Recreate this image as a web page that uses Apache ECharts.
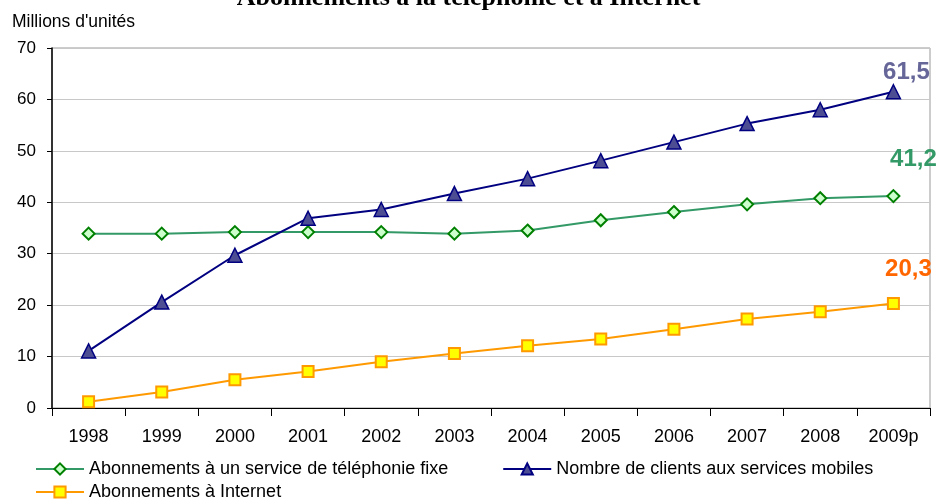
<!DOCTYPE html>
<html><head><meta charset="utf-8">
<script src="https://cdn.jsdelivr.net/npm/echarts@6/dist/echarts.min.js"></script>
<style>html,body{margin:0;padding:0;background:#fff}#c{width:937px;height:500px}</style>
</head><body><div id="c"></div>
<script>
const years = ['1998','1999','2000','2001','2002','2003','2004','2005','2006','2007','2008','2009p'];
const fixe = [33.9,33.9,34.2,34.2,34.2,33.9,34.5,36.5,38.1,39.6,40.8,41.2];
const mobile = [11.1,20.6,29.7,36.9,38.6,41.7,44.6,48.1,51.7,55.3,58.0,61.5];
const internet = [1.2,3.1,5.5,7.1,9.0,10.6,12.1,13.4,15.3,17.3,18.7,20.3];
const yTicks = [0,10,20,30,40,50,60,70];
const names = ['Abonnements à un service de téléphonie fixe','Nombre de clients aux services mobiles','Abonnements à Internet'];
const F = 'Liberation Sans, Arial, sans-serif';

function withEnd(arr, color, offset){
  return arr.map((v,i)=> i===arr.length-1 ? {value:v,label:{show:true,position:'top',offset:offset,color:color,fontSize:24,fontWeight:'bold',fontFamily:F,formatter:p=>p.value.toFixed(1).replace('.',',')}} : v);
}

const chart = echarts.init(document.getElementById('c'));
chart.setOption({
  animation:false,
  title:{text:'Abonnements à la téléphonie et à Internet',left:'center',top:-20,textStyle:{fontFamily:'Liberation Serif, Times New Roman, serif',fontSize:26,fontWeight:'bold',color:'#000'}},
  graphic:[{type:'text',left:12,top:13,style:{text:"Millions d'unités",font:'17.5px '+F,fill:'#000'}}],
  grid:{left:52,right:7,top:48,bottom:92,show:true,borderColor:'#999',borderWidth:1},
  legend:[
    {data:[names[0],names[1]],left:30,top:455,itemWidth:48,itemHeight:14,itemGap:54,textStyle:{fontFamily:F,fontSize:18,color:'#000'}},
    {data:[names[2]],left:30,top:478,itemWidth:48,itemHeight:14,textStyle:{fontFamily:F,fontSize:18,color:'#000'}}
  ],
  xAxis:{type:'category',data:years,boundaryGap:true,
    axisLine:{lineStyle:{color:'#000',width:1}},
    axisTick:{show:true,length:8,lineStyle:{color:'#000'}},
    axisLabel:{margin:20,fontFamily:F,fontSize:18,color:'#000'}},
  yAxis:{type:'value',min:yTicks[0],max:yTicks[yTicks.length-1],interval:10,
    axisLine:{show:true,lineStyle:{color:'#000',width:1.5}},
    axisTick:{show:true,length:5,lineStyle:{color:'#000'}},
    axisLabel:{margin:16,fontFamily:F,fontSize:17,color:'#000'},
    splitLine:{lineStyle:{color:'#c8c8c8',width:1}}},
  series:[
    {name:names[0],type:'line',data:withEnd(fixe,'#339966',[20,-13]),symbol:'diamond',symbolSize:12,
      lineStyle:{color:'#339966',width:2},itemStyle:{color:'#ccffcc',borderColor:'#008000',borderWidth:2},z:2},
    {name:names[1],type:'line',data:withEnd(mobile,'#666699',[13,5]),symbol:'triangle',symbolSize:14,
      lineStyle:{color:'#000080',width:2},itemStyle:{color:'#4d4d94',borderColor:'#000080',borderWidth:1.5},z:3},
    {name:names[2],type:'line',data:withEnd(internet,'#ff6600',[15,-11]),symbol:'rect',symbolSize:11,
      lineStyle:{color:'#ff9900',width:2},itemStyle:{color:'#ffff00',borderColor:'#ff9900',borderWidth:2},z:2}
  ]
});
</script></body></html>
